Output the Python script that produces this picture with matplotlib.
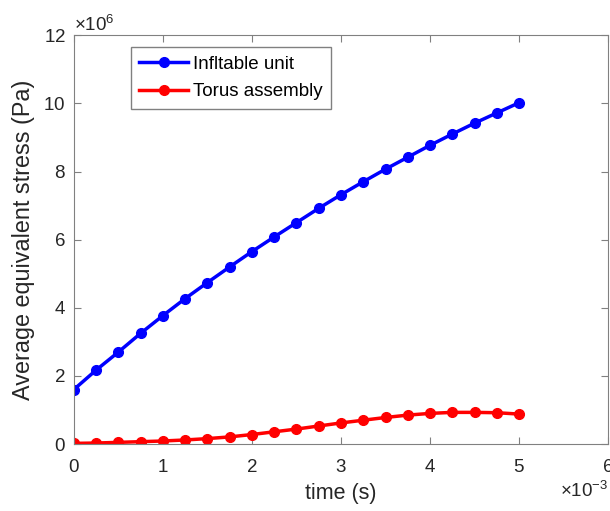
import matplotlib
matplotlib.use('Agg')
import matplotlib.pyplot as plt
from matplotlib.ticker import ScalarFormatter
import numpy as np

# time in ms, stress in MPa (scaled below)
time_ms = [0, 0.25, 0.5, 0.75, 1.0, 1.25, 1.5, 1.75, 2.0, 2.25, 2.5,
           2.75, 3.0, 3.25, 3.5, 3.75, 4.0, 4.25, 4.5, 4.75, 5.0]
inflatable = [1.60, 2.17, 2.70, 3.25, 3.77, 4.27, 4.74, 5.20, 5.65, 6.08, 6.50,
              6.92, 7.32, 7.70, 8.07, 8.42, 8.77, 9.10, 9.42, 9.72, 10.02]
torus = [0.02, 0.03, 0.05, 0.07, 0.09, 0.12, 0.16, 0.21, 0.28, 0.36, 0.44,
         0.53, 0.62, 0.70, 0.78, 0.85, 0.90, 0.93, 0.93, 0.92, 0.88]

plt.rcParams['font.family'] = ['Liberation Sans', 'DejaVu Sans']
plt.rcParams['mathtext.fontset'] = 'custom'
plt.rcParams['mathtext.rm'] = 'Liberation Sans'
plt.rcParams['mathtext.it'] = 'Liberation Sans'

t = np.array(time_ms) * 1e-3
fig = plt.figure(figsize=(6.10, 5.11), dpi=100)
ax = fig.add_axes([0.121, 0.131, 0.876, 0.8])

ax.plot(t, np.array(inflatable) * 1e6, '-o', color='#0000ff', lw=2.5, ms=7,
        label='Infltable unit')
ax.plot(t, np.array(torus) * 1e6, '-o', color='#ff0000', lw=2.5, ms=7,
        label='Torus assembly')

ax.set_xlim(0, 6e-3)
ax.set_ylim(0, 12e6)
ax.set_xticks(np.arange(0, 7) * 1e-3)
ax.set_yticks(np.arange(0, 13, 2) * 1e6)

xfmt = ScalarFormatter(useMathText=True)
xfmt.set_powerlimits((-3, -3))
ax.xaxis.set_major_formatter(xfmt)
yfmt = ScalarFormatter(useMathText=True)
yfmt.set_powerlimits((6, 6))
ax.yaxis.set_major_formatter(yfmt)

gray = '#808080'
for s in ax.spines.values():
    s.set_color(gray)
ax.tick_params(direction='in', top=True, right=True, length=5, color=gray,
               labelsize=13.5, labelcolor='#262626')
ax.tick_params(axis='x', pad=11)
ax.tick_params(axis='y', pad=6)
ax.xaxis.get_offset_text().set_fontsize(13.5)
ax.yaxis.get_offset_text().set_fontsize(13.5)

ax.set_xlabel('time (s)', fontsize=15.5, color='#262626', labelpad=5)
ax.set_ylabel('Average equivalent stress (Pa)', fontsize=16.8, color='#262626',
              labelpad=6)

leg = ax.legend(loc='upper left', bbox_to_anchor=(0.107, 0.971), fontsize=13.5,
                fancybox=False, framealpha=1, edgecolor=gray,
                handlelength=2.6, borderpad=0.45, labelspacing=0.56,
                handletextpad=0.27, borderaxespad=0)
leg.get_frame().set_linewidth(1.0)

fig.savefig('out.png', dpi=100)
